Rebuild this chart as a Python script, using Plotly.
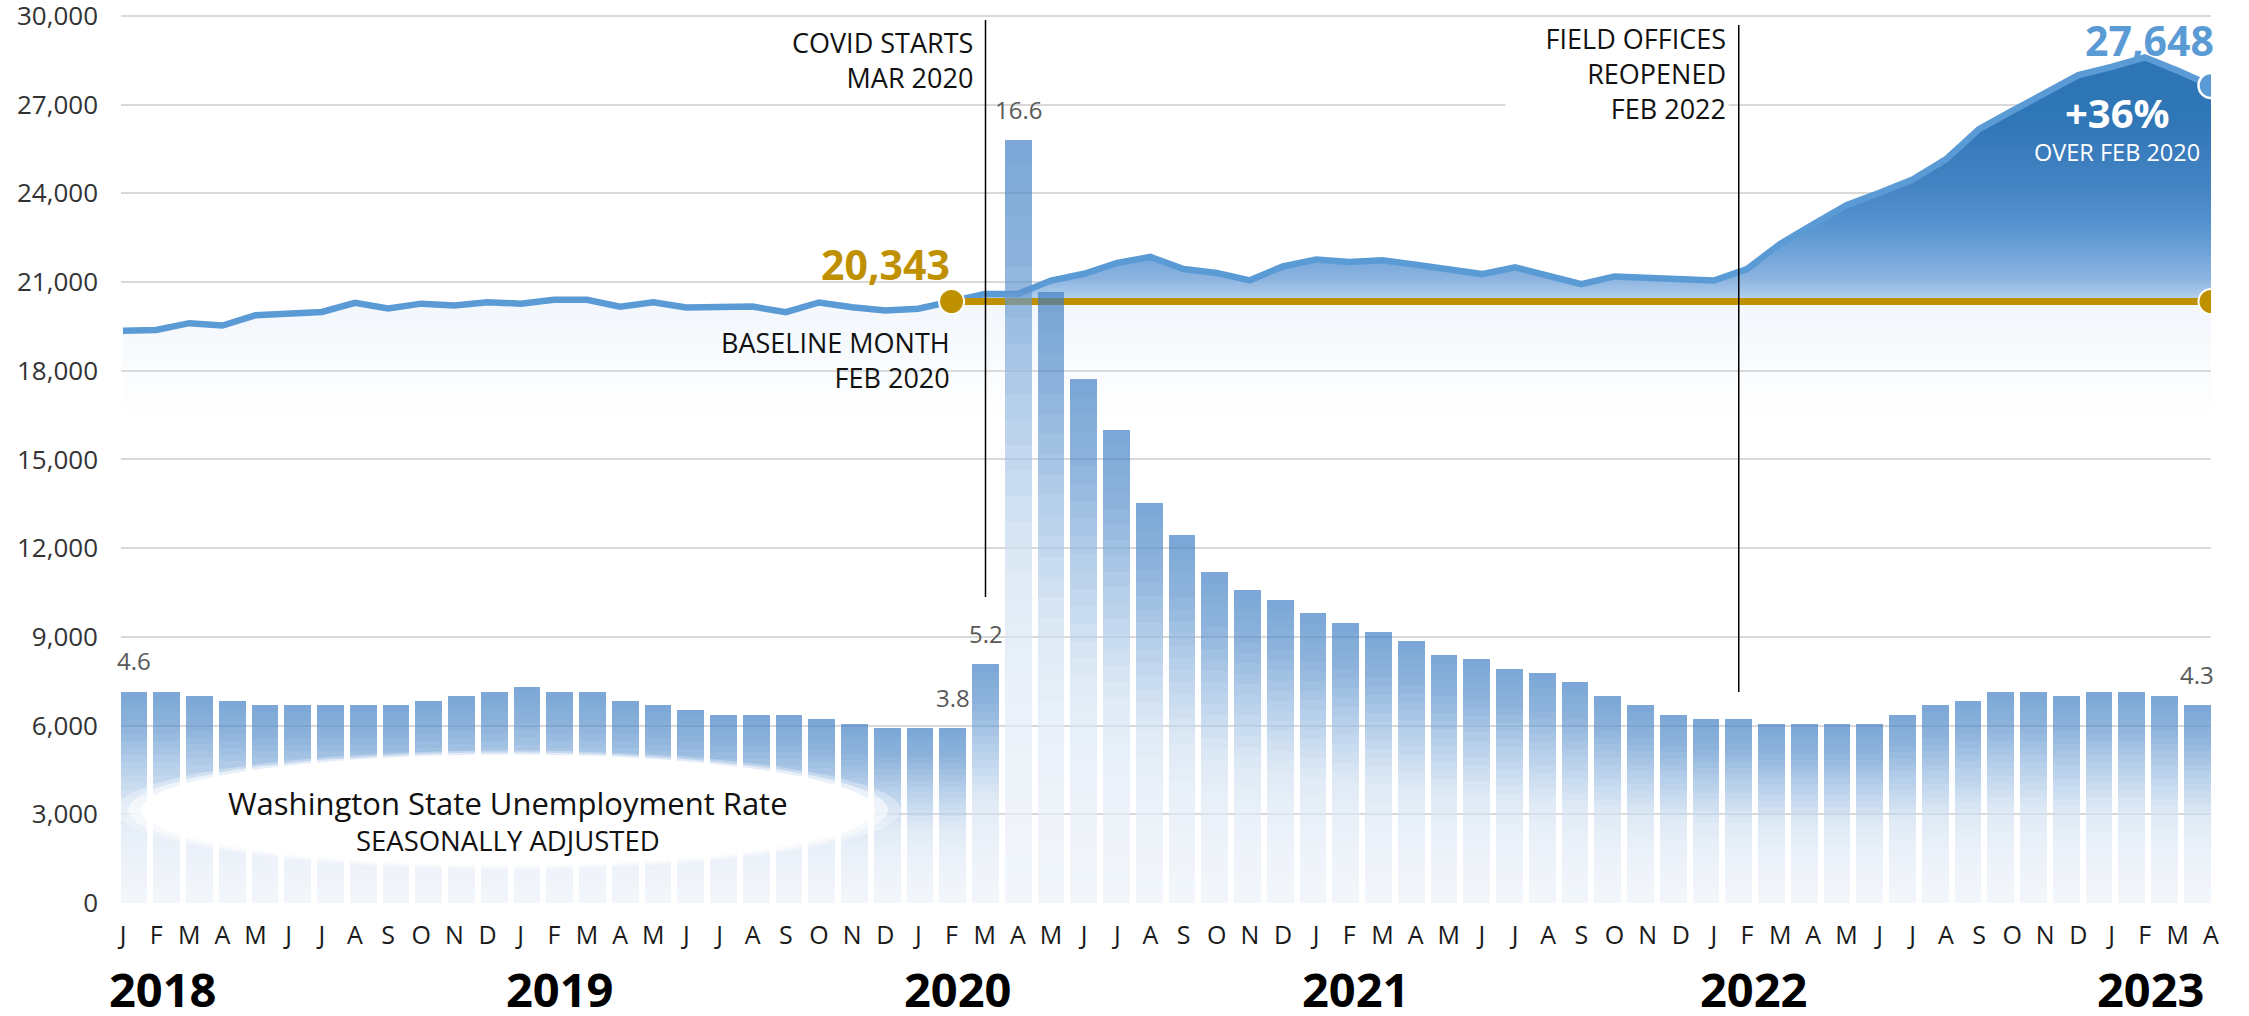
import plotly.graph_objects as go

# ---------------- data ----------------
month_letters = ["J", "F", "M", "A", "M", "J", "J", "A", "S", "O", "N", "D"]
years = ["2018", "2019", "2020", "2021", "2022", "2023"]
n_months = 64  # Jan 2018 .. Apr 2023

# monthly count (left axis)
counts = [
    19350, 19380, 19610, 19530, 19880, 19940, 19990, 20300, 20110, 20270, 20210, 20320,
    20270, 20400, 20400, 20170, 20320, 20140, 20140, 20170, 19980, 20310, 20150, 20040,
    20100, 20343, 20600, 20600, 21050, 21280, 21650, 21850, 21440, 21310, 21060, 21530,
    21760, 21680, 21740, 21590, 21440, 21270, 21500, 21240, 20930, 21190, 21160, 21100,
    21050, 21440, 22290, 22950, 23600, 24020, 24470, 25150, 26170, 26790, 27380, 28000,
    28280, 28600, 28150, 27648,
]

# Washington State unemployment rate, seasonally adjusted (%)
rates = [
    4.6, 4.6, 4.5, 4.4, 4.3, 4.3, 4.3, 4.3, 4.3, 4.4, 4.5, 4.6,
    4.7, 4.6, 4.6, 4.4, 4.3, 4.2, 4.1, 4.1, 4.1, 4.0, 3.9, 3.8,
    3.8, 3.8, 5.2, 16.6, 13.3, 11.4, 10.3, 8.7, 8.0, 7.2, 6.8, 6.6,
    6.3, 6.1, 5.9, 5.7, 5.4, 5.3, 5.1, 5.0, 4.8, 4.5, 4.3, 4.1,
    4.0, 4.0, 3.9, 3.9, 3.9, 3.9, 4.1, 4.3, 4.4, 4.6, 4.6, 4.5,
    4.6, 4.6, 4.5, 4.3,
]

baseline_idx = 25      # Feb 2020
covid_idx = 26         # Mar 2020
offices_idx = 49       # Feb 2022
rate_label_idx = [0, 25, 26, 27, 63]

y_ticks = list(range(0, 30001, 3000))
tick_text = [month_letters[i % 12] for i in range(n_months)]
idx = list(range(n_months))

FONT = "Open Sans"
BLUE = "#5B9BD5"
GOLD = "#BF9000"

base_val = counts[baseline_idx]
last_val = counts[-1]
pct = round((last_val / base_val - 1) * 100)

Y_TOP = 30100           # a little head-room so the 30,000 grid line is drawn
RATE_TOP = 19.3 * Y_TOP / 30000

fig = go.Figure()

# faint wash under the whole line
fig.add_trace(go.Scatter(
    x=idx, y=counts, mode="lines", line=dict(width=0), fill="tozeroy",
    fillgradient=dict(type="vertical", start=16300, stop=20600,
                      colorscale=[[0, "rgba(214,229,245,0)"], [1, "rgba(214,229,245,0.33)"]]),
    hoverinfo="skip", showlegend=False,
))

# baseline (invisible) as the bottom of the strong fill
post_x = idx[baseline_idx:]
post_y = counts[baseline_idx:]
base_y = [base_val] * len(post_x)
fig.add_trace(go.Scatter(x=post_x, y=base_y, mode="lines", line=dict(width=0),
                         hoverinfo="skip", showlegend=False))
fig.add_trace(go.Scatter(
    x=post_x, y=post_y, mode="lines", line=dict(width=0), fill="tonexty",
    fillgradient=dict(type="vertical", start=base_val, stop=max(counts),
                      colorscale=[[0, "#BDD7EE"], [0.03, "#A9C9EA"], [0.09, "#8DB4E0"],
                                  [0.2, "#6FA4D8"], [0.33, "#5391CF"], [0.47, "#4584C4"],
                                  [0.61, "#3A7CBD"], [0.74, "#3077B8"], [0.88, "#2E75B6"],
                                  [1, "#2E75B6"]]),
    hoverinfo="skip", showlegend=False,
))

# main line
fig.add_trace(go.Scatter(x=idx, y=counts, mode="lines",
                         line=dict(color=BLUE, width=6.5, shape="linear"),
                         showlegend=False))

# gold baseline
fig.add_trace(go.Scatter(
    x=[post_x[0], post_x[-1]], y=[base_val, base_val], mode="lines+markers",
    line=dict(color=GOLD, width=7),
    marker=dict(size=25, color=GOLD, line=dict(color="white", width=2)),
    showlegend=False,
))
# end point of the line
fig.add_trace(go.Scatter(
    x=[idx[-1]], y=[last_val], mode="markers",
    marker=dict(size=25, color=BLUE, line=dict(color="white", width=2.5)),
    showlegend=False,
))

# ---- gradient bars (stacked slices of each rate bar) ----
N = 30
stops = [(0.0, (243, 247, 251)), (0.2, (238, 243, 250)), (0.43, (225, 235, 246)),
         (0.66, (181, 206, 234)), (0.84, (141, 179, 220)), (1.0, (122, 166, 213))]
A = 0.68


def on_white(f):
    for (f0, c0), (f1, c1) in zip(stops[:-1], stops[1:]):
        if f0 <= f <= f1:
            t = (f - f0) / (f1 - f0)
            return [c0[k] + (c1[k] - c0[k]) * t for k in range(3)]
    return list(stops[-1][1])


for s in range(N):
    f = (s + 0.5) / N
    T = on_white(f)
    c = [max(0, min(255, (T[k] - (1 - A) * 255) / A)) for k in range(3)]
    col = "rgba(%d,%d,%d,%.2f)" % (c[0], c[1], c[2], A)
    fig.add_trace(go.Bar(
        x=idx, y=[r / N for r in rates], width=0.82,
        marker=dict(color=col, line=dict(width=0)),
        xaxis="x2", yaxis="y2", showlegend=False, hoverinfo="skip",
    ))

# ---------------- layout ----------------
fig.update_layout(
    width=2249, height=1016,
    margin=dict(l=121, r=38, t=13, b=113, autoexpand=False),
    paper_bgcolor="white", plot_bgcolor="white",
    barmode="stack",
    font=dict(family=FONT, color="#262626"),
    xaxis=dict(range=[-0.06, 63], tickvals=idx, ticktext=tick_text,
               tickfont=dict(size=25, color="#1a1a1a"), showgrid=False,
               zeroline=False, showline=False, ticks="", ticklabelstandoff=15,
               automargin=False),
    yaxis=dict(range=[0, Y_TOP], tickvals=y_ticks, tickformat=",",
               tickfont=dict(size=26, color="#333333"), gridcolor="#D9D9D9",
               gridwidth=2, zeroline=False, showline=False, ticks="",
               ticklabelstandoff=22, ticklabeloverflow="allow", automargin=False),
    xaxis2=dict(range=[-0.397, 63.42], overlaying="x", anchor="y2", visible=False,
                automargin=False),
    yaxis2=dict(range=[0, RATE_TOP], overlaying="y", anchor="x2", visible=False,
                automargin=False),
)

# soft white ellipse behind the bar caption
for sc, op in [(1.07, 0.3), (1.035, 0.55), (1.0, 1.0)]:
    cx, cy, rx, ry = 0.1852, 0.1045, 0.1756 * sc, 0.0624 * sc
    fig.add_shape(type="circle", xref="paper", yref="paper",
                  x0=cx - rx, x1=cx + rx, y0=cy - ry, y1=cy + ry,
                  fillcolor="white", opacity=op, line=dict(width=0), layer="above")

# event lines
fig.add_shape(type="line", xref="x2", yref="paper", x0=covid_idx, x1=covid_idx,
              y0=0.3438, y1=0.992, line=dict(color="black", width=1.5), layer="above")
fig.add_shape(type="line", xref="x2", yref="paper", x0=offices_idx, x1=offices_idx,
              y0=0.237, y1=0.9865, line=dict(color="black", width=1.5), layer="above")

ann = []
# event texts
ann.append(dict(xref="x2", yref="paper", x=covid_idx, y=0.9472, xanchor="right", yanchor="middle",
                xshift=-11, text="COVID STARTS<br>MAR 2020", align="right", showarrow=False,
                font=dict(size=27, color="#111111")))
ann.append(dict(xref="x2", yref="paper", x=offices_idx, y=0.9315, xanchor="right", yanchor="middle",
                xshift=-10, text="FIELD OFFICES<br>REOPENED<br>FEB 2022", align="right",
                showarrow=False, bgcolor="white", width=218, borderpad=2,
                font=dict(size=27, color="#111111")))
# baseline texts
ann.append(dict(x=baseline_idx, y=base_val, xanchor="right", yanchor="middle", yshift=38,
                text="<b>%s</b>" % f"{base_val:,}", showarrow=False,
                font=dict(size=41, color=GOLD)))
ann.append(dict(x=baseline_idx, y=base_val, xanchor="right", yanchor="middle", yshift=-58,
                text="BASELINE MONTH<br>FEB 2020", align="right", showarrow=False,
                font=dict(size=27, color="#111111")))
# end-of-line texts
ann.append(dict(x=idx[-1], y=last_val, xanchor="right", yanchor="middle", yshift=46, xshift=5,
                text="<b>%s</b>" % f"{last_val:,}", showarrow=False,
                font=dict(size=41, color=BLUE)))
ann.append(dict(xref="paper", yref="paper", x=0.9555, y=0.8885, xanchor="center", yanchor="middle",
                text="<b>+%d%%</b>" % pct, showarrow=False, font=dict(size=40, color="white")))
ann.append(dict(xref="paper", yref="paper", x=0.955, y=0.8438, xanchor="center", yanchor="middle",
                text="OVER FEB 2020", showarrow=False, font=dict(size=23.5, color="white")))
# rate labels
for i in rate_label_idx:
    ann.append(dict(xref="x2", yref="y2", x=i, y=rates[i], xanchor="center", yanchor="middle",
                    yshift=31, text=f"{rates[i]:.1f}", showarrow=False,
                    font=dict(size=24, color="#595959")))
# caption (one block, two sizes)
ann.append(dict(xref="paper", yref="paper", x=0.1851, y=0.0927, xanchor="center", yanchor="middle",
                text="<span style='font-size:31px'>Washington State Unemployment Rate</span>"
                     "<br>SEASONALLY ADJUSTED",
                showarrow=False, align="center",
                font=dict(size=27.5, color="#111111")))
# year labels
for k, yr in enumerate(years):
    ann.append(dict(xref="x", yref="paper", x=12 * k + 1.2, y=-0.097, xanchor="center",
                    yanchor="middle", text="<b>%s</b>" % yr, showarrow=False,
                    font=dict(size=47, color="black")))

fig.update_layout(annotations=ann)
fig.write_html("out.html", config={"displayModeBar": False},
               post_script="document.documentElement.style.margin='0';"
                           "document.body.style.margin='0';"
                           "document.body.style.overflow='hidden';")
